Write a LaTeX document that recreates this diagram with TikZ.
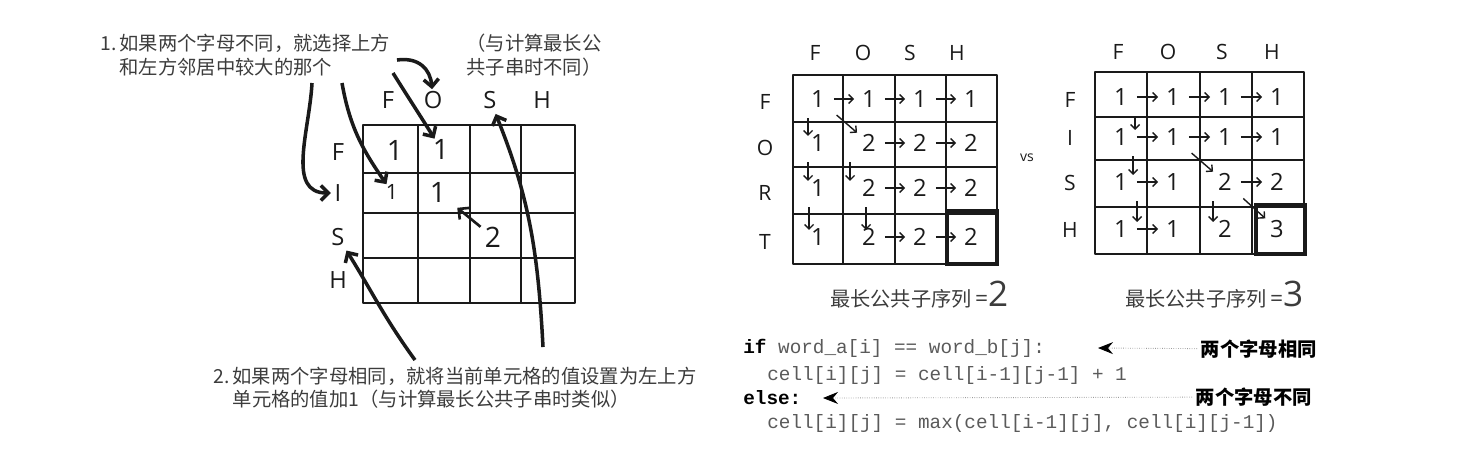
\documentclass[tikz,border=0pt]{standalone}
\usepackage{fontspec}
\setmainfont{Open Sans}
\setmonofont{Liberation Mono}
\newfontfamily\cjk{Noto Sans CJK SC}
\usepackage{xcolor}
\usepackage{tikz}
\usetikzlibrary{arrows.meta}
\definecolor{ink}{HTML}{1A1A1A}
\definecolor{pencil}{HTML}{3C3C3C}
\definecolor{codegray}{HTML}{5A5A5A}
\definecolor{dotgray}{HTML}{9A9A9A}
\newcommand\codekw[1]{{\bfseries\color{black}#1}}
\tikzset{
  sketch/.style={draw=ink,line width=1pt,line join=round},
  finalbox/.style={draw=ink,line width=2pt},
  hand/.style={font=\cjk\fontsize{11}{13.6}\selectfont,text=pencil,align=left,inner sep=0pt,anchor=west},
  biglbl/.style={font=\fontsize{13.5}{13.5}\selectfont,text=ink,inner sep=0pt},
  bigval/.style={font=\fontsize{16}{16}\selectfont,text=ink,inner sep=0pt},
  lbl/.style={font=\fontsize{12}{12}\selectfont,text=ink,inner sep=0pt},
  val/.style={font=\fontsize{13.5}{13.5}\selectfont,text=ink,inner sep=0pt},
  bigarr/.style={-{Straight Barb[length=1.5mm,width=3mm]},line width=2pt,ink},
  harr/.style={-{Straight Barb[length=0.9mm,width=1.8mm]},line width=0.8pt,ink,shorten <=9pt,shorten >=8.5pt},
  varr/.style={harr,shorten <=11pt,shorten >=4pt},
  darr/.style={harr,shorten <=14pt,shorten >=9pt},
  code/.style={font=\ttfamily\fontsize{11}{11}\selectfont,text=codegray,anchor=west,inner sep=0pt},
  note/.style={font=\cjk\bfseries\fontsize{11}{11}\selectfont,text=black,anchor=west,inner sep=2pt},
  notearr/.style={-{Stealth[length=3mm,width=2.4mm,inset=1mm,color=black]},dotgray,line width=0.5pt,dash pattern=on 0.4pt off 0.9pt},
}

\begin{document}
\begin{tikzpicture}[x=0.02cm,y=-0.02cm]
  \useasboundingbox (0,0) rectangle (1476,458);

  % hand-drawn table
  \draw[sketch] (363,125) rectangle (575,303);
  \foreach \x in {418,470,521} \draw[sketch] (\x,125) -- (\x,303);
  \foreach \y in {173,213,258} \draw[sketch] (363,\y) -- (575,\y);
  \foreach \lab/\x in {F/388,O/433,S/490,H/542} \node[biglbl] (lc\lab) at (\x,100) {\lab};
  \foreach \lab/\y in {F/152,I/193,S/237,H/280} \node[biglbl] (lr\lab) at (338,\y) {\lab};
  \node[bigval] (l11) at (395,150) {1};
  \node[bigval] (l12) at (441,149) {1};
  \node[bigval,font=\fontsize{12}{12}\selectfont] (l21) at (392,192) {1};
  \node[bigval] (l22) at (438,192) {1};
  \node[bigval] (l33) at (493,237) {2};

  \node[hand] (t1) at (100,55) {1.\,如果两个字母不同，就选择上方\\\phantom{1.\,}和左方邻居中较大的那个};
  \node[hand] (t2) at (466,55) {（与计算最长公\\共子串时不同）};
  \node[hand,font=\cjk\fontsize{11}{13}\selectfont] (t3) at (213,388) {2.\,如果两个字母相同，就将当前单元格的值设置为左上方\\\phantom{2.\,}单元格的值加1（与计算最长公共子串时类似）};

  \coordinate (s1) at (312,83);
  \coordinate (s2) at (342,83);
  \coordinate (s3) at (393,73);
  \coordinate (s4) at (397,60);
  \coordinate (s5) at (543,347);
  \coordinate (s6) at (415,360);
  \draw[bigarr,shorten >=2pt] (s1) to[out=-93,in=180,looseness=1.1] (lrI);
  \draw[bigarr] (s2) to[out=-80,in=125] (l21);
  \draw[bigarr] (s3) to[out=-58,in=122] (l12);
  \draw[bigarr,shorten >=1pt] (s4) to[out=8,in=95,looseness=1.2] (lcO);
  \draw[bigarr,shorten >=3pt] (s5) to[out=93,in=-68] (lcS);
  \draw[bigarr,shorten >=3pt] (s6) to[out=126,in=-58] (lrS);
  \draw[bigarr,line width=1.5pt,shorten <=3pt,shorten >=8pt] (l33) -- (l22);

  % FORT vs FOSH
  \draw[sketch] (793,75) rectangle (997,264);
  \foreach \x in {843,895,946} \draw[sketch] (\x,75) -- (\x,264);
  \foreach \y in {122,167,214} \draw[sketch] (793,\y) -- (997,\y);
  \draw[finalbox] (947,211) rectangle (997,264);
  \foreach \lab/\x in {F/815,O/863,S/910,H/957} \node[lbl] (ac\lab) at (\x,53) {\lab};
  \foreach \lab/\y in {F/102,O/148,R/193,T/242} \node[lbl] (ar\lab) at (765,\y) {\lab};
  \foreach \v [count=\col] in {1,1,1,1} \node[val] (a1\col) at (767+51*\col,99) {\v};
  \foreach \v [count=\col] in {1,2,2,2} \node[val] (a2\col) at (767+51*\col,143) {\v};
  \foreach \v [count=\col] in {1,2,2,2} \node[val] (a3\col) at (767+51*\col,188) {\v};
  \foreach \v [count=\col] in {1,2,2,2} \node[val] (a4\col) at (767+51*\col,237) {\v};
  \foreach \s/\e in {a11/a12,a12/a13,a13/a14,a22/a23,a23/a24,a32/a33,a33/a34,a42/a43,a43/a44}
    \draw[harr] (\s.center) -- (\e.center);
  \foreach \s/\e/\dx in {a11/a21/-10,a21/a31/-10,a31/a41/-9,a22/a32/-19,a32/a42/-3}
    \draw[varr] ([shift={(\dx,0)}]\s.center) -- ([shift={(\dx,0)}]\e.center);
  \draw[darr] (a11.center) -- (a22.center);

  \node[font=\fontsize{8}{8}\selectfont,text=ink] (vs) at (1027,158) {vs};

  \draw[sketch] (1095,72) rectangle (1304,254);
  \foreach \x in {1147,1200,1252} \draw[sketch] (\x,72) -- (\x,254);
  \foreach \y in {117,160,207} \draw[sketch] (1095,\y) -- (1304,\y);
  \draw[finalbox] (1256,205) rectangle (1305,254);
  \foreach \lab/\x in {F/1118,O/1168,S/1222,H/1272} \node[lbl] (bc\lab) at (\x,52) {\lab};
  \foreach \lab/\y in {F/100,I/138,S/183,H/230} \node[lbl] (br\lab) at (1070,\y) {\lab};
  \foreach \v [count=\col] in {1,1,1,1} \node[val] (b1\col) at (1069+52*\col,97) {\v};
  \foreach \v [count=\col] in {1,1,1,1} \node[val] (b2\col) at (1069+52*\col,137) {\v};
  \foreach \v [count=\col] in {1,1,2,2} \node[val] (b3\col) at (1069+52*\col,182) {\v};
  \foreach \v [count=\col] in {1,1,2,3} \node[val] (b4\col) at (1069+52*\col,229) {\v};
  \foreach \s/\e in {b11/b12,b12/b13,b13/b14,b21/b22,b22/b23,b23/b24,b31/b32,b33/b34,b41/b42}
    \draw[harr] (\s.center) -- (\e.center);
  \foreach \s/\e/\dx in {b11/b21/14,b21/b31/12,b31/b41/16,b33/b43/-12}
    \draw[varr] ([shift={(\dx,0)}]\s.center) -- ([shift={(\dx,0)}]\e.center);
  \foreach \s/\e in {b22/b33,b33/b44} \draw[darr] (\s.center) -- (\e.center);

  \node[hand,font=\cjk\fontsize{11.5}{11.5}\selectfont] (resA) at (830,295) {最长公共子序列\,{\rmfamily\fontsize{13}{13}\selectfont=}{\rmfamily\fontsize{20}{20}\selectfont 2}};
  \node[hand,font=\cjk\fontsize{11.5}{11.5}\selectfont] (resB) at (1125,295) {最长公共子序列\,{\rmfamily\fontsize{13}{13}\selectfont=}{\rmfamily\fontsize{20}{20}\selectfont 3}};

  % pseudo code
  \node[code] (c1) at (743,348) {\codekw{if} word\_a[i] == word\_b[j]:};
  \node[code] (c2) at (767,375) {cell[i][j] = cell[i-1][j-1] + 1};
  \node[code] (c3) at (743,398) {\codekw{else:}};
  \node[code] (c4) at (767,423) {cell[i][j] = max(cell[i-1][j], cell[i][j-1])};
  \coordinate (tipA) at (1098,348);
  \coordinate (tipB) at (823,398);
  \node[note] (n1) at (1197,349) {两个字母相同};
  \node[note] (n2) at (1192,397) {两个字母不同};
  \draw[notearr] (n1) -- (tipA);
  \draw[notearr] (n2) -- (tipB);
\end{tikzpicture}
\end{document}
